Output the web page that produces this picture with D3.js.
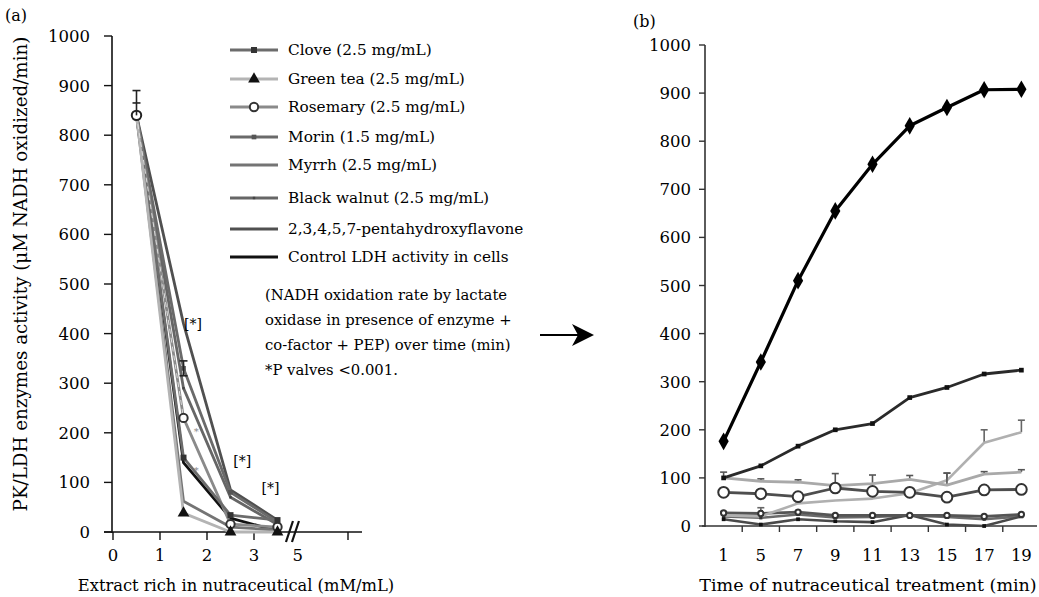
<!DOCTYPE html>
<html>
<head>
<meta charset="utf-8">
<script src="https://cdn.jsdelivr.net/npm/d3@7"></script>
<style>
  body { margin: 0; background: #fff; }
  text { font-family: "DejaVu Serif", serif; fill: #000; }
</style>
</head>
<body>
<div id="chart"></div>
<script>
// ---- data: panel (a) ----
const doseX = [0.5, 1.5, 2.5, 3.5];
const seriesNames = [
  "Clove (2.5 mg/mL)",
  "Green tea (2.5 mg/mL)",
  "Rosemary (2.5 mg/mL)",
  "Morin (1.5 mg/mL)",
  "Myrrh (2.5 mg/mL)",
  "Black walnut (2.5 mg/mL)",
  "2,3,4,5,7-pentahydroxyflavone",
  "Control LDH activity in cells"
];
const cloveA = [840, 150, 34, 24];
const greenTeaA = [840, 38, 0, 0];
const rosemaryA = [840, 230, 16, 10];
const morinA = [840, 330, 80, 20];
const myrrhA = [840, 62, 10, 4];
const walnutA = [840, 290, 70, 15];
const pentaA = [840, 420, 85, 24];
const controlA = [840, 140, 28, 2];
const errA = [[0.5, 840, 50], [1.5, 330, 15]];

// ---- data: panel (b) ----
const timeLabels = ["1", "5", "7", "9", "11", "13", "15", "17", "19"];
const controlB = [176, 341, 510, 655, 752, 832, 870, 907, 908];
const pentaB = [100, 125, 166, 200, 213, 267, 288, 316, 324];
const greenTeaB = [22, 20, 47, 53, 57, 68, 95, 173, 195];
const greenTeaErr = [8, 18, 0, 0, 0, 0, 15, 27, 25];
const cloveB = [100, 93, 91, 84, 88, 97, 85, 108, 112];
const cloveErr = [12, 5, 5, 25, 18, 8, 25, 5, 5];
const rosemaryB = [70, 67, 61, 79, 72, 70, 60, 75, 76];
const morinB = [27, 26, 29, 22, 22, 22, 22, 20, 24];
const myrrhB = [14, 3, 14, 10, 8, 23, 3, 0, 20];
const walnutB = [20, 17, 24, 18, 19, 22, 19, 14, 20];

const yTicks = d3.range(0, 1001, 100);

const W = 1039, H = 597;
const svg = d3.select("#chart").append("svg")
  .attr("width", W).attr("height", H);

// styles per series (same order as seriesNames)
const styles = [
  { color: "#6c6c6c", sym: d3.symbolSquare, size: 36, fill: "#333" },
  { color: "#b4b4b4", sym: d3.symbolTriangle, size: 60, fill: "#111" },
  { color: "#8a8a8a", sym: d3.symbolCircle, size: 55, fill: "#fff", stroke: "#333" },
  { color: "#6a6a6a", sym: d3.symbolSquare, size: 22, fill: "#555" },
  { color: "#747474", sym: null },
  { color: "#666", sym: d3.symbolSquare, size: 6, fill: "#444" },
  { color: "#505050", sym: null },
  { color: "#111", sym: null }
];

// ================= panel (a) =================
const xA = d3.scaleLinear().domain([0, 5]).range([113, 348]);
const yA = d3.scaleLinear().domain([0, 1000]).range([532, 36]);
const gA = svg.append("g");

gA.append("line").attr("x1", 112).attr("x2", 112).attr("y1", 36).attr("y2", 533)
  .attr("stroke", "#111").attr("stroke-width", 1.6);
gA.append("line").attr("x1", 104).attr("x2", 362).attr("y1", 532).attr("y2", 532)
  .attr("stroke", "#111").attr("stroke-width", 1.6);

gA.selectAll(".ytA").data(yTicks).enter().append("line")
  .attr("x1", 104).attr("x2", 112)
  .attr("y1", d => yA(d)).attr("y2", d => yA(d))
  .attr("stroke", "#111").attr("stroke-width", 1.4);
gA.selectAll(".ylA").data(yTicks).enter().append("text")
  .attr("x", 90).attr("y", d => yA(d) + 6)
  .attr("text-anchor", "end").attr("font-size", 16.5).text(d => d);

const xTickA = [0, 1, 2, 3, 5];
gA.selectAll(".xtA").data(xTickA).enter().append("line")
  .attr("x1", d => xA(d)).attr("x2", d => xA(d))
  .attr("y1", 532).attr("y2", 540)
  .attr("stroke", "#111").attr("stroke-width", 1.4);
gA.selectAll(".xlA").data([0, 1, 2, 3]).enter().append("text")
  .attr("x", d => xA(d)).attr("y", 561)
  .attr("text-anchor", "middle").attr("font-size", 16.5).text(d => d);
gA.append("text").attr("x", xA(3.93)).attr("y", 561)
  .attr("text-anchor", "middle").attr("font-size", 16.5).text("5");

// axis break
[0, 6].forEach(off => {
  gA.append("line")
    .attr("x1", xA(3.68) + off).attr("y1", 542)
    .attr("x2", xA(3.68) + off + 7).attr("y2", 521)
    .attr("stroke", "#111").attr("stroke-width", 2.2);
});

const dataA = [cloveA, greenTeaA, rosemaryA, morinA, myrrhA, walnutA, pentaA, controlA];
const lineA = d3.line().x(d => xA(d[0])).y(d => yA(d[1]));
const drawOrderA = [7, 6, 5, 4, 3, 2, 0, 1];
drawOrderA.forEach(i => {
  const pts = doseX.map((x, k) => [x, dataA[i][k]]);
  gA.append("path").attr("d", lineA(pts))
    .attr("fill", "none").attr("stroke", styles[i].color)
    .attr("stroke-width", 2.8).attr("stroke-linejoin", "round");
});
// light dashed trace along the first segment
gA.append("path")
  .attr("d", lineA([[0.5, 840], [1.5, 230]]))
  .attr("fill", "none").attr("stroke", "#ddd")
  .attr("stroke-width", 1).attr("stroke-dasharray", "5,4");

drawOrderA.forEach(i => {
  const st = styles[i];
  if (!st.sym) return;
  doseX.slice(1).forEach((x, k) => {
    gA.append("path")
      .attr("d", d3.symbol().type(st.sym).size(st.size)())
      .attr("transform", `translate(${xA(x)},${yA(dataA[i][k + 1])})`)
      .attr("fill", st.fill).attr("stroke", st.stroke || "none").attr("stroke-width", 2);
  });
});
// start point marker
gA.append("path").attr("d", d3.symbol().type(d3.symbolCircle).size(70)())
  .attr("transform", `translate(${xA(0.5)},${yA(840)})`)
  .attr("fill", "#fff").attr("stroke", "#222").attr("stroke-width", 2);

errA.forEach(([x, v, e]) => {
  gA.append("line").attr("x1", xA(x)).attr("x2", xA(x))
    .attr("y1", yA(v - (x === 0.5 ? 0 : e))).attr("y2", yA(v + e))
    .attr("stroke", "#222").attr("stroke-width", 1.6);
  [v + e, x === 0.5 ? v + e / 2 : v - e].forEach(c => {
    gA.append("line").attr("x1", xA(x) - 4).attr("x2", xA(x) + 4)
      .attr("y1", yA(c)).attr("y2", yA(c))
      .attr("stroke", "#222").attr("stroke-width", 1.6);
  });
});

// significance marks
[[1.7, 420], [2.75, 143], [3.35, 88]].forEach(([x, v]) => {
  gA.append("text").attr("x", xA(x)).attr("y", yA(v) + 5)
    .attr("text-anchor", "middle").attr("font-size", 14).text("[*]");
});
[[1.77, 205], [1.77, 128]].forEach(([x, v]) => {
  gA.append("text").attr("x", xA(x)).attr("y", yA(v) + 5)
    .attr("text-anchor", "middle").attr("font-size", 10)
    .style("fill", "#888").text("*");
});

// legend
const legendY = [50, 79, 107, 137, 165, 198, 229, 257];
seriesNames.forEach((name, i) => {
  const st = styles[i];
  const y = legendY[i];
  gA.append("line").attr("x1", 230).attr("x2", 278).attr("y1", y).attr("y2", y)
    .attr("stroke", st.color).attr("stroke-width", 3);
  if (st.sym) {
    gA.append("path").attr("d", d3.symbol().type(st.sym).size(st.size)())
      .attr("transform", `translate(254,${y})`)
      .attr("fill", st.fill).attr("stroke", st.stroke || "none").attr("stroke-width", 2);
  }
  gA.append("text").attr("x", 288).attr("y", y + 5)
    .attr("font-size", 15.3).text(name);
});

// note
const noteLines = [
  "(NADH oxidation rate by lactate",
  "oxidase in presence of enzyme +",
  "co-factor + PEP) over time (min)",
  "*P valves <0.001."
];
noteLines.forEach((t, i) => {
  gA.append("text").attr("x", 265).attr("y", 300 + i * 25)
    .attr("font-size", 14.8).text(t);
});

gA.append("text").attr("x", 5).attr("y", 21).attr("font-size", 16).text("(a)");
gA.append("text")
  .attr("transform", "translate(27,274) rotate(-90)")
  .attr("text-anchor", "middle").attr("font-size", 18.3)
  .text("PK/LDH enzymes activity (μM NADH oxidized/min)");
gA.append("text").attr("x", 236).attr("y", 591)
  .attr("text-anchor", "middle").attr("font-size", 16.3)
  .text("Extract rich in nutraceutical (mM/mL)");

// arrow
svg.append("line").attr("x1", 540).attr("x2", 580).attr("y1", 335).attr("y2", 335)
  .attr("stroke", "#000").attr("stroke-width", 2.2);
svg.append("path").attr("d", "M594,335 L572,324 L578,335 L572,346 Z").attr("fill", "#000");

// ================= panel (b) =================
const xB = d3.scaleBand().domain(timeLabels).range([705, 1040]).paddingInner(0);
const cx = l => xB(l) + xB.bandwidth() / 2;
const yB = d3.scaleLinear().domain([0, 1000]).range([526, 45]);
const gB = svg.append("g");

gB.append("line").attr("x1", 705).attr("x2", 705).attr("y1", 45).attr("y2", 527)
  .attr("stroke", "#333").attr("stroke-width", 1.6);
gB.append("line").attr("x1", 702).attr("x2", 1037).attr("y1", 526).attr("y2", 526)
  .attr("stroke", "#333").attr("stroke-width", 1.6);
gB.selectAll(".ytB").data(yTicks).enter().append("line")
  .attr("x1", 699).attr("x2", 705)
  .attr("y1", d => yB(d)).attr("y2", d => yB(d))
  .attr("stroke", "#333").attr("stroke-width", 1.4);
gB.selectAll(".ylB").data(yTicks).enter().append("text")
  .attr("x", 691).attr("y", d => yB(d) + 6)
  .attr("text-anchor", "end").attr("font-size", 16.5).text(d => d);
gB.selectAll(".xtB").data(timeLabels.slice(1)).enter().append("line")
  .attr("x1", d => xB(d)).attr("x2", d => xB(d))
  .attr("y1", 526).attr("y2", 532)
  .attr("stroke", "#333").attr("stroke-width", 1.4);
gB.selectAll(".xlB").data(timeLabels).enter().append("text")
  .attr("x", d => cx(d)).attr("y", 561)
  .attr("text-anchor", "middle").attr("font-size", 16.5).text(d => d);

const lineB = d3.line().x((d, i) => cx(timeLabels[i])).y(d => yB(d));
const seriesB = [
  { v: walnutB, color: "#6a6a6a", w: 2.6, sym: d3.symbolSquare, size: 10, fill: "#333" },
  { v: myrrhB, color: "#4a4a4a", w: 2.6, sym: d3.symbolSquare, size: 14, fill: "#111" },
  { v: morinB, color: "#555", w: 2.8, sym: d3.symbolCircle, size: 22, fill: "#fff", stroke: "#333" },
  { v: greenTeaB, color: "#b0b0b0", w: 2.6, err: greenTeaErr, errColor: "#666" },
  { v: cloveB, color: "#a9a9a9", w: 2.8, err: cloveErr, errColor: "#555" },
  { v: rosemaryB, color: "#4e4e4e", w: 2.8, sym: d3.symbolCircle, size: 90, fill: "#fff", stroke: "#333" },
  { v: pentaB, color: "#2a2a2a", w: 2.8, sym: d3.symbolSquare, size: 22, fill: "#111" },
  { v: controlB, color: "#000", w: 3.2, sym: d3.symbolDiamond, size: 90, fill: "#000" }
];
seriesB.forEach(s => {
  if (s.err) {
    s.v.forEach((v, i) => {
      if (!s.err[i]) return;
      const x = cx(timeLabels[i]);
      gB.append("line").attr("x1", x).attr("x2", x)
        .attr("y1", yB(v)).attr("y2", yB(v + s.err[i]))
        .attr("stroke", s.errColor).attr("stroke-width", 1.6);
      gB.append("line").attr("x1", x - 3.5).attr("x2", x + 3.5)
        .attr("y1", yB(v + s.err[i])).attr("y2", yB(v + s.err[i]))
        .attr("stroke", s.errColor).attr("stroke-width", 1.6);
    });
  }
  gB.append("path").attr("d", lineB(s.v))
    .attr("fill", "none").attr("stroke", s.color).attr("stroke-width", s.w)
    .attr("stroke-linejoin", "round");
});
seriesB.forEach(s => {
  if (!s.sym) return;
  s.v.forEach((v, i) => {
    gB.append("path").attr("d", d3.symbol().type(s.sym).size(s.size)())
      .attr("transform", `translate(${cx(timeLabels[i])},${yB(v)})`)
      .attr("fill", s.fill).attr("stroke", s.stroke || "none").attr("stroke-width", 2);
  });
});

gB.append("text").attr("x", 633).attr("y", 27).attr("font-size", 16).text("(b)");
gB.append("text").attr("x", 868).attr("y", 591)
  .attr("text-anchor", "middle").attr("font-size", 17.5)
  .text("Time of nutraceutical treatment (min)");
</script>
</body>
</html>
